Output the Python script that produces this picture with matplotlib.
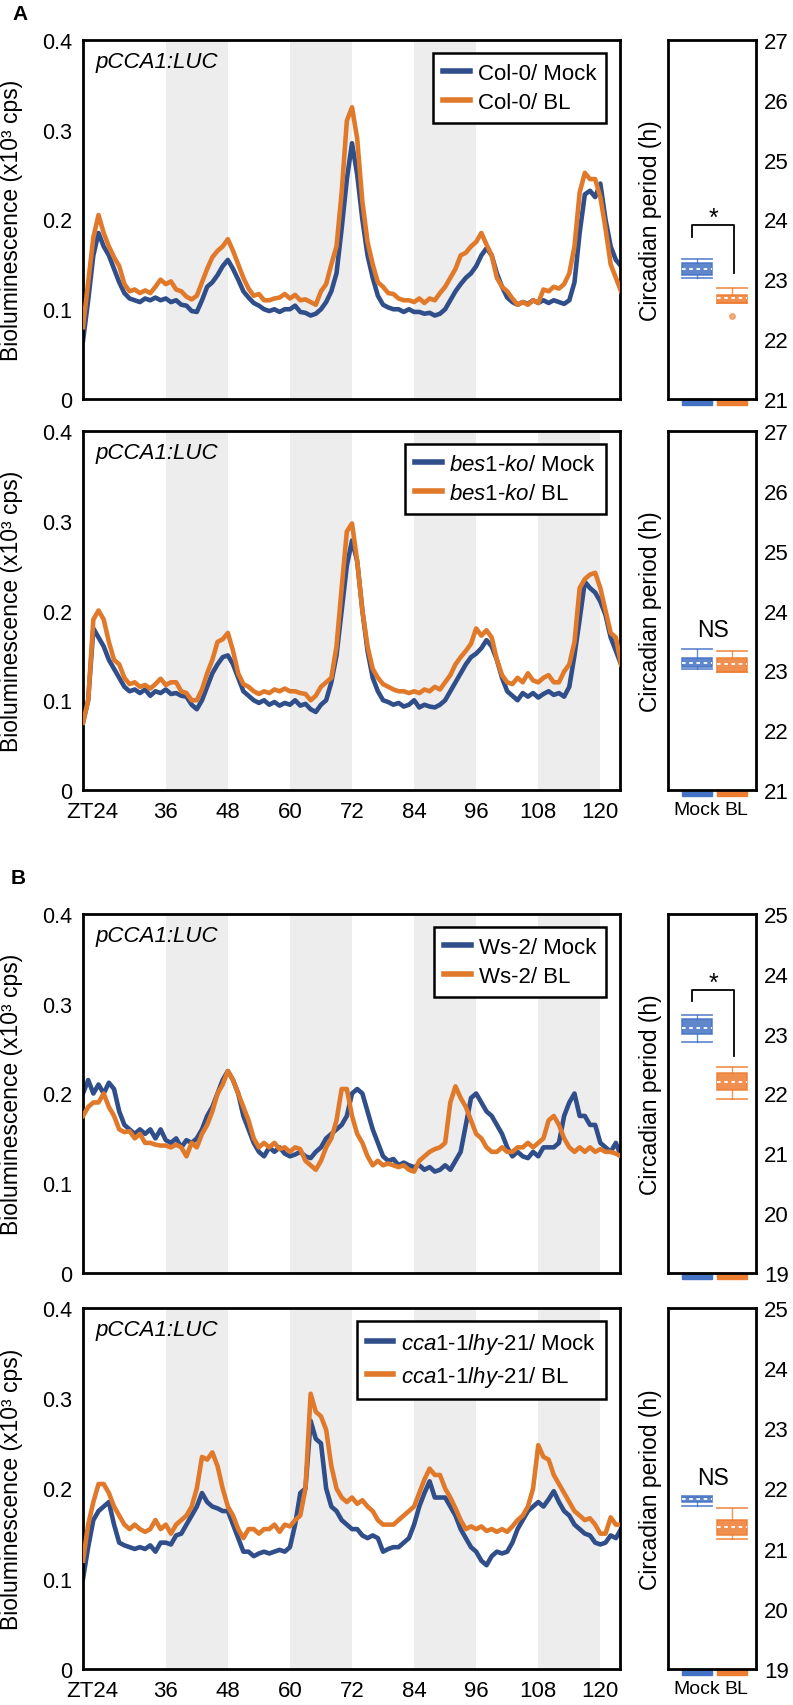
import matplotlib
matplotlib.use("Agg")
import numpy as np
import matplotlib.pyplot as plt
from matplotlib import font_manager
from matplotlib.patches import Rectangle
from matplotlib.transforms import ScaledTranslation, blended_transform_factory

plt.rcParams['font.family'] = ['Liberation Sans', 'DejaVu Sans']
plt.rcParams['mathtext.fontset'] = 'custom'
plt.rcParams['mathtext.rm'] = 'Liberation Sans'
plt.rcParams['mathtext.it'] = 'Liberation Sans:italic'
plt.rcParams['mathtext.bf'] = 'Liberation Sans:bold'

# ---------------- data ----------------
hours = np.arange(20, 125)          # ZT hours, 1 h resolution
xtick_values = [24, 36, 48, 60, 72, 84, 96, 108, 120]
xtick_labels = ["ZT24", "36", "48", "60", "72", "84", "96", "108", "120"]
ytick_values = [0, 0.1, 0.2, 0.3, 0.4]
ytick_labels = ["0", "0.1", "0.2", "0.3", "0.4"]
box_labels = ["Mock", "BL"]

dark_A1 = [(36, 48), (60, 72), (84, 96)]
dark_full = [(36, 48), (60, 72), (84, 96), (108, 120)]

col0_mock = [0.065, 0.11, 0.16, 0.185, 0.17, 0.16, 0.145, 0.13, 0.118, 0.112, 0.11, 0.108,
             0.112, 0.11, 0.113, 0.11, 0.112, 0.108, 0.11, 0.105, 0.104, 0.098, 0.097, 0.11,
             0.125, 0.13, 0.138, 0.148, 0.155, 0.145, 0.133, 0.12, 0.113, 0.107, 0.104, 0.1,
             0.098, 0.1, 0.097, 0.1, 0.1, 0.104, 0.097, 0.096, 0.093, 0.095, 0.1, 0.108,
             0.12, 0.14, 0.19, 0.245, 0.285, 0.25, 0.2, 0.16, 0.135, 0.115, 0.105, 0.102,
             0.1, 0.1, 0.097, 0.1, 0.097, 0.097, 0.095, 0.096, 0.093, 0.095, 0.1, 0.11,
             0.12, 0.128, 0.135, 0.14, 0.148, 0.16, 0.168, 0.16, 0.14, 0.125, 0.113, 0.108,
             0.105, 0.108, 0.106, 0.11, 0.107, 0.11, 0.107, 0.11, 0.108, 0.106, 0.11, 0.13,
             0.185, 0.228, 0.232, 0.225, 0.24, 0.2, 0.17, 0.155, 0.148]
col0_bl = [0.08, 0.13, 0.18, 0.205, 0.185, 0.17, 0.158, 0.148, 0.128, 0.12, 0.122, 0.118,
           0.121, 0.118, 0.125, 0.133, 0.128, 0.131, 0.122, 0.12, 0.114, 0.111, 0.115, 0.13,
           0.145, 0.158, 0.165, 0.17, 0.178, 0.165, 0.15, 0.135, 0.123, 0.115, 0.117, 0.11,
           0.11, 0.112, 0.113, 0.117, 0.112, 0.116, 0.11, 0.111, 0.108, 0.105, 0.12, 0.128,
           0.15, 0.17, 0.23, 0.31, 0.325, 0.29, 0.22, 0.175, 0.15, 0.13, 0.125, 0.118,
           0.117, 0.112, 0.11, 0.11, 0.108, 0.112, 0.107, 0.112, 0.11, 0.118, 0.125, 0.135,
           0.145, 0.16, 0.163, 0.17, 0.175, 0.185, 0.172, 0.16, 0.135, 0.125, 0.12, 0.112,
           0.105, 0.108, 0.105, 0.11, 0.107, 0.122, 0.12, 0.125, 0.123, 0.128, 0.14, 0.17,
           0.23, 0.252, 0.245, 0.245, 0.225, 0.19, 0.15, 0.135, 0.12]

bes1_mock = [0.075, 0.1, 0.18, 0.17, 0.16, 0.145, 0.135, 0.125, 0.115, 0.11, 0.112, 0.108,
             0.112, 0.105, 0.11, 0.108, 0.112, 0.107, 0.108, 0.105, 0.104, 0.095, 0.09, 0.1,
             0.115, 0.13, 0.14, 0.148, 0.15, 0.14, 0.125, 0.11, 0.105, 0.1, 0.097, 0.1,
             0.095, 0.098, 0.094, 0.097, 0.095, 0.1, 0.094, 0.096, 0.09, 0.087, 0.095, 0.1,
             0.12, 0.15, 0.2, 0.25, 0.278, 0.255, 0.2, 0.155, 0.125, 0.11, 0.1, 0.098,
             0.095, 0.097, 0.093, 0.095, 0.1, 0.092, 0.095, 0.093, 0.092, 0.095, 0.1, 0.11,
             0.12, 0.13, 0.14, 0.148, 0.152, 0.158, 0.167, 0.16, 0.145, 0.125, 0.11, 0.105,
             0.1, 0.108, 0.104, 0.108, 0.103, 0.107, 0.11, 0.106, 0.108, 0.104, 0.115, 0.15,
             0.19, 0.232, 0.225, 0.22, 0.21, 0.195, 0.17, 0.155, 0.14]
bes1_bl = [0.075, 0.1, 0.19, 0.2, 0.19, 0.165, 0.145, 0.14, 0.125, 0.118, 0.12, 0.115,
           0.117, 0.113, 0.118, 0.124, 0.117, 0.12, 0.12, 0.11, 0.108, 0.1, 0.1, 0.112,
           0.13, 0.145, 0.165, 0.168, 0.175, 0.155, 0.13, 0.118, 0.115, 0.11, 0.107, 0.11,
           0.108, 0.112, 0.11, 0.113, 0.11, 0.11, 0.108, 0.107, 0.1, 0.105, 0.115, 0.12,
           0.125, 0.16, 0.225, 0.288, 0.297, 0.255, 0.2, 0.16, 0.135, 0.125, 0.118, 0.115,
           0.112, 0.11, 0.11, 0.108, 0.11, 0.108, 0.112, 0.11, 0.115, 0.112, 0.12, 0.128,
           0.14, 0.148, 0.155, 0.163, 0.18, 0.172, 0.178, 0.17, 0.145, 0.128, 0.12, 0.118,
           0.125, 0.12, 0.13, 0.122, 0.12, 0.125, 0.128, 0.12, 0.12, 0.132, 0.14, 0.165,
           0.225, 0.235, 0.24, 0.242, 0.225, 0.2, 0.175, 0.17, 0.14]

ws2_mock = [0.2, 0.215, 0.2, 0.21, 0.2, 0.212, 0.205, 0.18, 0.165, 0.16, 0.155, 0.16,
            0.155, 0.16, 0.15, 0.16, 0.148, 0.145, 0.15, 0.14, 0.148, 0.145, 0.15, 0.16,
            0.175, 0.185, 0.2, 0.215, 0.225, 0.215, 0.2, 0.175, 0.16, 0.145, 0.135, 0.13,
            0.14, 0.135, 0.14, 0.133, 0.13, 0.132, 0.135, 0.13, 0.128, 0.135, 0.14, 0.15,
            0.155, 0.16, 0.165, 0.175, 0.2, 0.205, 0.2, 0.18, 0.16, 0.145, 0.13, 0.125,
            0.127, 0.12, 0.123, 0.12, 0.118, 0.12, 0.115, 0.118, 0.113, 0.115, 0.12, 0.115,
            0.125, 0.135, 0.165, 0.195, 0.2, 0.19, 0.18, 0.175, 0.165, 0.155, 0.14, 0.13,
            0.135, 0.13, 0.128, 0.135, 0.13, 0.14, 0.14, 0.14, 0.145, 0.175, 0.19, 0.2,
            0.175, 0.175, 0.165, 0.165, 0.145, 0.14, 0.135, 0.145, 0.13]
ws2_bl = [0.175, 0.185, 0.19, 0.19, 0.2, 0.185, 0.175, 0.16, 0.157, 0.158, 0.15, 0.155,
          0.145, 0.145, 0.143, 0.142, 0.142, 0.14, 0.143, 0.14, 0.13, 0.145, 0.14, 0.155,
          0.165, 0.18, 0.2, 0.21, 0.225, 0.215, 0.2, 0.185, 0.17, 0.15, 0.14, 0.145,
          0.14, 0.145, 0.138, 0.14, 0.135, 0.14, 0.138, 0.125, 0.12, 0.115, 0.125, 0.14,
          0.15, 0.17, 0.205, 0.205, 0.175, 0.155, 0.145, 0.13, 0.12, 0.125, 0.12, 0.122,
          0.12, 0.118, 0.12, 0.115, 0.113, 0.125, 0.13, 0.135, 0.138, 0.14, 0.145, 0.19,
          0.208, 0.195, 0.185, 0.17, 0.155, 0.15, 0.14, 0.135, 0.135, 0.14, 0.135, 0.135,
          0.14, 0.14, 0.145, 0.14, 0.145, 0.15, 0.17, 0.175, 0.165, 0.15, 0.14, 0.135,
          0.14, 0.135, 0.14, 0.135, 0.138, 0.135, 0.135, 0.133, 0.13]

cca1_mock = [0.1, 0.135, 0.165, 0.175, 0.18, 0.185, 0.16, 0.14, 0.137, 0.135, 0.133, 0.135,
             0.133, 0.137, 0.13, 0.14, 0.14, 0.138, 0.148, 0.15, 0.16, 0.17, 0.18, 0.195,
             0.185, 0.18, 0.178, 0.175, 0.175, 0.16, 0.145, 0.13, 0.13, 0.125, 0.128, 0.13,
             0.128, 0.13, 0.132, 0.13, 0.135, 0.16, 0.195, 0.2, 0.275, 0.255, 0.25, 0.2,
             0.18, 0.175, 0.165, 0.16, 0.155, 0.155, 0.148, 0.145, 0.148, 0.145, 0.13, 0.133,
             0.135, 0.135, 0.14, 0.145, 0.16, 0.18, 0.195, 0.208, 0.19, 0.19, 0.19, 0.18,
             0.17, 0.155, 0.145, 0.135, 0.13, 0.12, 0.115, 0.125, 0.13, 0.128, 0.13, 0.14,
             0.155, 0.165, 0.175, 0.18, 0.185, 0.18, 0.188, 0.197, 0.185, 0.175, 0.17, 0.16,
             0.155, 0.15, 0.148, 0.14, 0.138, 0.14, 0.148, 0.145, 0.155]
cca1_bl = [0.12, 0.16, 0.185, 0.205, 0.205, 0.195, 0.18, 0.17, 0.16, 0.155, 0.16, 0.155,
           0.152, 0.155, 0.165, 0.155, 0.16, 0.15, 0.16, 0.165, 0.17, 0.18, 0.2, 0.235,
           0.232, 0.24, 0.225, 0.2, 0.18, 0.17, 0.155, 0.145, 0.155, 0.155, 0.15, 0.155,
           0.155, 0.16, 0.152, 0.16, 0.158, 0.165, 0.17, 0.2, 0.305, 0.285, 0.28, 0.265,
           0.225, 0.2, 0.19, 0.185, 0.19, 0.183, 0.187, 0.18, 0.175, 0.165, 0.16, 0.16,
           0.16, 0.165, 0.17, 0.175, 0.18, 0.195, 0.21, 0.222, 0.215, 0.215, 0.2, 0.19,
           0.178, 0.165, 0.155, 0.158, 0.155, 0.158, 0.153, 0.155, 0.152, 0.155, 0.152, 0.158,
           0.165, 0.17, 0.18, 0.2, 0.248, 0.235, 0.232, 0.215, 0.205, 0.195, 0.185, 0.175,
           0.17, 0.165, 0.167, 0.16, 0.15, 0.15, 0.168, 0.16, 0.16]

# period box stats: [whisker low, Q1, median, Q3, whisker high]
period_col0_mock = [23.02, 23.08, 23.17, 23.27, 23.34]
period_col0_bl = [22.60, 22.61, 22.68, 22.73, 22.85]
period_col0_bl_outliers = [22.39]
period_bes1_mock = [23.02, 23.05, 23.13, 23.21, 23.35]
period_bes1_bl = [22.97, 22.98, 23.10, 23.20, 23.33]
period_ws2_mock = [22.86, 23.00, 23.10, 23.24, 23.32]
period_ws2_bl = [21.90, 22.06, 22.20, 22.34, 22.44]
period_cca1_mock = [21.71, 21.77, 21.82, 21.86, 21.87]
period_cca1_bl = [21.16, 21.23, 21.36, 21.47, 21.67]

# ---------------- styling ----------------
W, H = 793, 1706
fig = plt.figure(figsize=(W / 100, H / 100), dpi=100)

BLUE = '#2F4E8A'
ORANGE = '#E1792B'
BOX_BLUE = '#4472C4'
BOX_ORANGE = '#ED7D31'
SHADE = '#EDEDED'
MAIN_L, MAIN_R = 83, 620
BOX_L, BOX_R = 668, 756
SPINE_LW = 2.0

_names = {f.name for f in font_manager.fontManager.ttflist}
if 'Liberation Sans Narrow' in _names:
    BOX_LBL_FONT = dict(family=['Liberation Sans Narrow', 'Liberation Sans'], size=16)
else:
    BOX_LBL_FONT = dict(family=['Liberation Sans', 'DejaVu Sans'], size=14)


def rect(l, r, top, bottom):
    return [l / W, 1 - bottom / H, (r - l) / W, (bottom - top) / H]


def trace_panel(top, bottom, mock, bl, leg_labels, bands, show_x):
    ax = fig.add_axes(rect(MAIN_L, MAIN_R, top, bottom))
    for a, b in bands:
        ax.axvspan(a, b, color=SHADE, lw=0, zorder=0)
    ax.plot(hours, mock, color=BLUE, lw=3.3, label=leg_labels[0], zorder=2)
    ax.plot(hours, bl, color=ORANGE, lw=3.3, label=leg_labels[1], zorder=3)
    ax.set_xlim(20, 123.8)
    ax.set_ylim(0, 0.4)
    ax.set_yticks(ytick_values)
    ax.set_yticklabels(ytick_labels)
    ax.tick_params(axis='y', length=0, pad=8, labelsize=15.5)
    ax.set_xticks(xtick_values)
    if show_x:
        ax.set_xticklabels(xtick_labels)
        ax.tick_params(axis='x', length=0, pad=8, labelsize=16)
        lbl = ax.get_xticklabels()[0]
        lbl.set_transform(lbl.get_transform() + ScaledTranslation(-0.11, 0, fig.dpi_scale_trans))
    else:
        ax.set_xticklabels([])
        ax.tick_params(axis='x', length=0)
    for s in ax.spines.values():
        s.set_linewidth(SPINE_LW)
    ax.text(0.024, 0.94, 'pCCA1:LUC', style='italic', fontsize=16,
            transform=ax.transAxes, ha='left', va='center')
    ax.text(-0.134, 0.5, 'Bioluminescence (x10³ cps)', rotation=90, fontsize=16.5,
            transform=ax.transAxes, ha='center', va='center')
    leg = ax.legend(loc='upper right', bbox_to_anchor=(0.974, 0.964), fontsize=16,
                    frameon=True, fancybox=False, edgecolor='black', framealpha=1,
                    handlelength=1.2, handletextpad=0.35, labelspacing=0.35,
                    borderpad=0.45, borderaxespad=0)
    leg.get_frame().set_linewidth(1.8)
    for h in leg.get_lines():
        h.set_linewidth(4)
    return ax


def box_panel(top, bottom, mock, bl, ylim, sig, show_x, bl_out=()):
    ax = fig.add_axes(rect(BOX_L, BOX_R, top, bottom))
    stats = []
    for vals, lab, fl in [(mock, box_labels[0], []), (bl, box_labels[1], list(bl_out))]:
        stats.append(dict(whislo=vals[0], q1=vals[1], med=vals[2], q3=vals[3],
                          whishi=vals[4], fliers=fl, label=lab))
    res = ax.bxp(stats, positions=[1, 2], widths=0.85, capwidths=0.85, patch_artist=True,
                 showfliers=True, manage_ticks=False)
    for i, c in enumerate([BOX_BLUE, BOX_ORANGE]):
        b = res['boxes'][i]
        b.set_facecolor(c)
        b.set_alpha(0.85)
        b.set_edgecolor(c)
        b.set_linewidth(1.2)
        res['medians'][i].set_color('white')
        res['medians'][i].set_linestyle((0, (2, 2)))
        res['medians'][i].set_linewidth(1.3)
        for w in res['whiskers'][2 * i:2 * i + 2]:
            w.set_color(c)
            w.set_linewidth(1.0)
            w.set_alpha(0.8)
        for cp in res['caps'][2 * i:2 * i + 2]:
            cp.set_color(c)
            cp.set_linewidth(1.3)
            cp.set_alpha(0.8)
        fl = res['fliers'][i]
        fl.set_marker('o')
        fl.set_markersize(4)
        fl.set_markerfacecolor(c)
        fl.set_markeredgecolor(c)
        fl.set_alpha(0.6)
    ax.set_xlim(0.172, 2.686)
    ax.set_ylim(*ylim)
    ax.set_yticks(range(ylim[0], ylim[1] + 1))
    ax.yaxis.tick_right()
    ax.tick_params(axis='y', length=0, pad=6, labelsize=16)
    if show_x:
        ax.set_xticks([0.98, 2.12])
        ax.set_xticklabels(box_labels, **BOX_LBL_FONT)
        ax.tick_params(axis='x', length=0, pad=8)
    else:
        ax.set_xticks([1, 2])
        ax.set_xticklabels([])
        ax.tick_params(axis='x', length=0)
    for s in ax.spines.values():
        s.set_linewidth(SPINE_LW)
    tr = blended_transform_factory(ax.transData, ax.transAxes)
    for p, c in zip([1, 2], [BOX_BLUE, BOX_ORANGE]):
        ax.add_patch(Rectangle((p - 0.42, -0.018), 0.84, 0.018, transform=tr,
                               color=c, clip_on=False, zorder=1))
    ax.text(-0.2045, 0.5, 'Circadian period (h)', rotation=90, fontsize=16.5,
            transform=ax.transAxes, ha='center', va='center')
    if sig[0] == '*':
        _, yl, yt, yr = sig
        ax.plot([0.86, 0.86, 2.06, 2.06], [yl, yt, yt, yr], color='black', lw=1.3)
        ax.text(1.46, yt + 0.12, '*', fontsize=18, ha='center', va='center')
    else:
        ax.text(1.46, sig[1], 'NS', fontsize=16.5, ha='center', va='center')
    return ax


rows = [(41, 400), (432, 791), (915, 1274), (1309, 1670)]

trace_panel(*rows[0], col0_mock, col0_bl, ['Col-0/ Mock', 'Col-0/ BL'], dark_A1, False)
box_panel(*rows[0], period_col0_mock, period_col0_bl, (21, 27), ('*', 23.7, 23.9, 23.1), False,
          period_col0_bl_outliers)

trace_panel(*rows[1], bes1_mock, bes1_bl,
            [r'$\mathit{bes1}$-$\mathit{ko}$/ Mock', r'$\mathit{bes1}$-$\mathit{ko}$/ BL'],
            dark_full, True)
box_panel(*rows[1], period_bes1_mock, period_bes1_bl, (21, 27), ('NS', 23.69), True)

trace_panel(*rows[2], ws2_mock, ws2_bl, ['Ws-2/ Mock', 'Ws-2/ BL'], dark_full, False)
box_panel(*rows[2], period_ws2_mock, period_ws2_bl, (19, 25), ('*', 23.54, 23.73, 22.62), False)

trace_panel(*rows[3], cca1_mock, cca1_bl,
            [r'$\mathit{cca1}$-$\mathit{1lhy}$-$\mathit{21}$/ Mock',
             r'$\mathit{cca1}$-$\mathit{1lhy}$-$\mathit{21}$/ BL'],
            dark_full, True)
box_panel(*rows[3], period_cca1_mock, period_cca1_bl, (19, 25), ('NS', 22.19), True)

fig.text(20 / W, 1 - 15 / H, 'A', fontsize=15, fontweight='bold', ha='center', va='center')
fig.text(18 / W, 1 - 878 / H, 'B', fontsize=15, fontweight='bold', ha='center', va='center')

fig.savefig('out.png', dpi=100)
